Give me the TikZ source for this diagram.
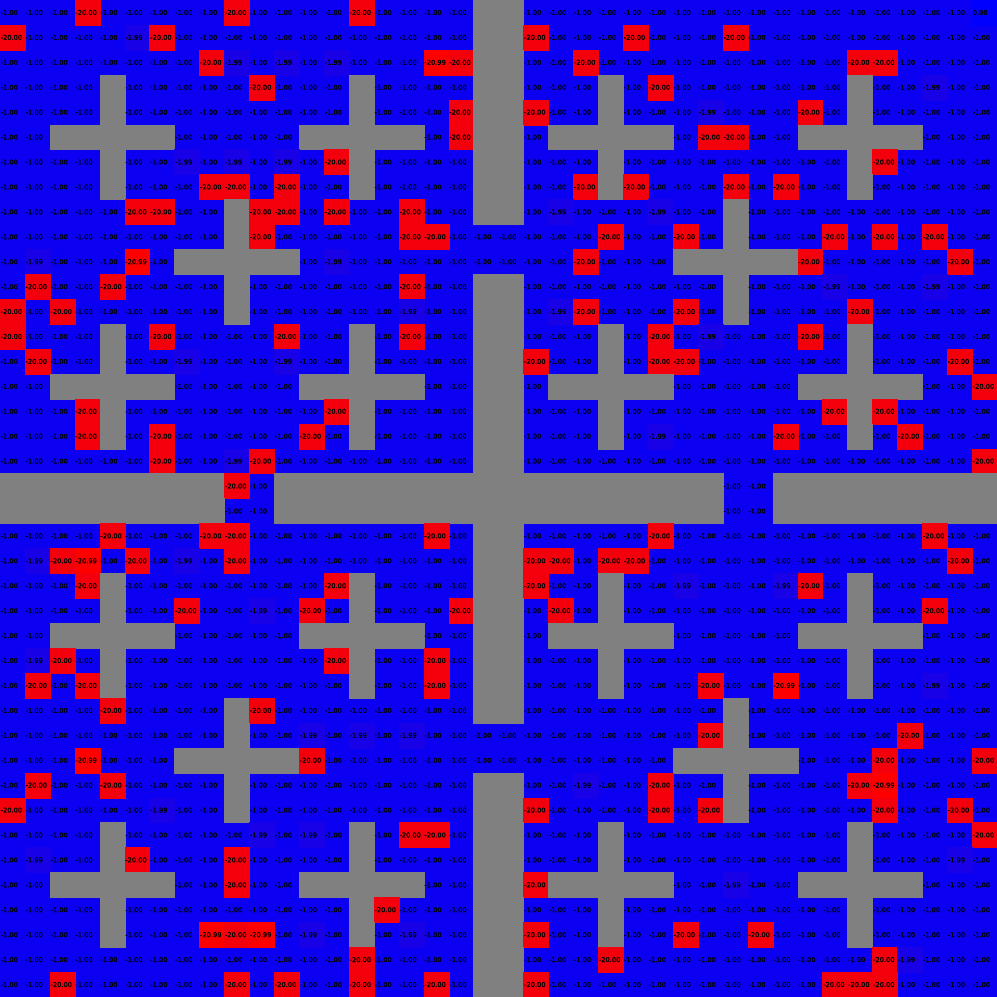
\documentclass[tikz,border=0pt]{standalone}
\usepackage{fontspec}
\setmainfont{DejaVu Sans}
\newfontfamily\cellfont[FakeBold=1.2]{DejaVu Sans}
\definecolor{bone}{RGB}{12,0,243}
\definecolor{bonenine}{RGB}{24,0,231}
\definecolor{bzero}{RGB}{0,0,255}
\definecolor{rtw}{RGB}{243,0,12}
\definecolor{rtwnine}{RGB}{255,0,0}
\definecolor{wallgrey}{RGB}{128,128,128}
\newcommand\setcellval[3]{%
  \expandafter\gdef\csname cc@#1\endcsname{#2}%
  \expandafter\gdef\csname ct@#1\endcsname{#3}}
\begin{document}
\begin{tikzpicture}[x=1cm,y=1cm,
  cellval/.style={anchor=west, inner sep=0pt, font=\cellfont\fontsize{7.6}{8}\selectfont, text=black},
  cellfill/.style={fill=#1, draw=#1, line width=0.2pt}]
\useasboundingbox (0,0) rectangle (40,-40);
\fill[bone] (0,0) rectangle (40,-40);
% red cells (-20.00)
\foreach \p in {0-3,0-9,0-14,
 1-0,1-6,1-21,1-25,1-29,
 2-8,2-18,2-23,2-34,2-35,
 3-10,3-26,
 4-18,4-21,4-32,
 5-18,5-28,5-29,
 6-13,6-35,
 7-8,7-9,7-11,7-23,7-25,7-29,7-31,
 8-5,8-6,8-10,8-11,8-13,8-16,
 9-10,9-16,9-17,9-24,9-27,9-33,9-35,9-37,
 10-23,10-32,10-38,
 11-1,11-4,11-16,
 12-0,12-2,12-23,12-27,12-34,
 13-0,13-6,13-11,13-16,13-26,13-32,
 14-1,14-21,14-26,14-27,14-38,
 15-39,
 16-3,16-13,16-33,16-35,
 17-3,17-6,17-12,17-31,17-36,
 18-6,18-10,18-39,
 19-9,
 21-4,21-8,21-9,21-17,21-26,21-37,
 22-2,22-5,22-9,22-21,22-22,22-24,22-25,22-38,
 23-3,23-13,23-21,23-32,
 24-7,24-12,24-18,24-22,24-37,
 26-2,26-13,26-17,
 27-1,27-3,27-17,27-28,
 28-4,28-10,
 29-28,29-36,
 30-12,30-35,30-39,
 31-1,31-4,31-26,31-34,
 32-0,32-21,32-26,32-28,32-35,32-38,
 33-16,33-17,33-39,
 34-5,34-9,
 35-9,35-21,
 36-15,
 37-9,37-21,37-27,37-30,
 38-14,38-24,38-35,
 39-2,39-9,39-11,39-14,39-17,39-21,39-33,39-34,39-35}
 {\setcellval{\p}{rtw}{-20.00}}
% -20.99 cells
\foreach \p in {2-17,10-5,22-3,27-31,30-3,31-35,37-8,37-10}
 {\setcellval{\p}{rtwnine}{-20.99}}
% -1.99 cells
\foreach \p in {1-5,2-9,2-11,2-13,3-37,4-28,6-7,6-9,6-11,8-22,8-26,
 10-1,10-13,11-33,11-37,12-16,12-22,13-28,14-7,14-11,17-26,18-9,
 22-1,22-7,23-27,23-31,24-10,26-1,27-37,29-12,29-14,29-16,
 31-23,32-6,33-10,33-12,34-1,34-38,35-29,37-12,37-16,38-36}
 {\setcellval{\p}{bonenine}{-1.99}}
\setcellval{0-39}{bzero}{0.00}
\foreach \r in {0,...,39} {
  \foreach \c in {0,...,39} {
    \pgfmathtruncatemacro\isw{((\c==19 || \c==20) && !(\r==9 || \r==10 || \r==29 || \r==30))
      || ((\r==19 || \r==20) && !(\c==9 || \c==10 || \c==29 || \c==30))
      || ((\c==9 || \c==29) && ((\r>=8 && \r<=12) || (\r>=28 && \r<=32)))
      || ((\r==10 || \r==30) && ((\c>=7 && \c<=11) || (\c>=27 && \c<=31)))
      || (mod(\c,10)==4 && mod(\r,10)>=3 && mod(\r,10)<=7)
      || (mod(\r,10)==5 && mod(\c,10)>=2 && mod(\c,10)<=6)}
    \ifnum\isw=1
      \path[cellfill=wallgrey] (\c,-\r) rectangle ++(1,-1);
    \else
      \ifcsname cc@\r-\c\endcsname
        \edef\cellcol{\csname cc@\r-\c\endcsname}%
        \edef\celltxt{\csname ct@\r-\c\endcsname}%
        \path[cellfill=\cellcol] (\c,-\r) rectangle ++(1,-1);
      \else
        \def\celltxt{-1.00}%
      \fi
      \node[cellval] (n-\r-\c) at (\c+0.02,-\r-0.5) {\celltxt};
    \fi
  }
}
\end{tikzpicture}
\end{document}
